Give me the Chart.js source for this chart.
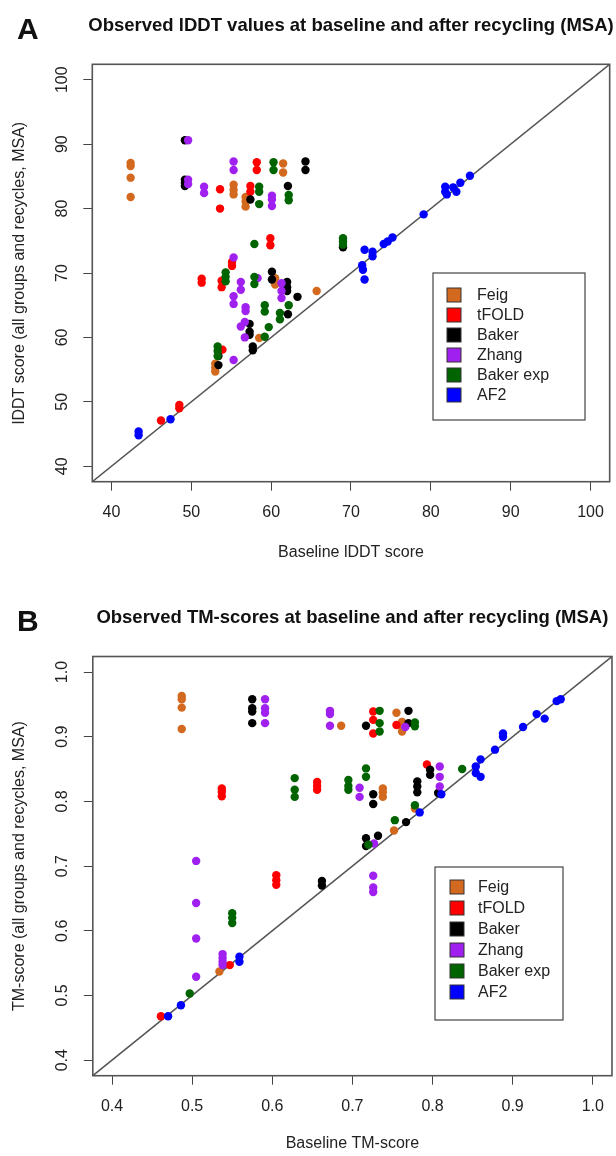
<!DOCTYPE html>
<html><head><meta charset="utf-8">
<script src="https://cdn.jsdelivr.net/npm/chart.js@4.4.1/dist/chart.umd.min.js"></script>
<style>
html,body{margin:0;padding:0;background:#fff;}
#wrap{position:relative;width:616px;height:1156px;overflow:hidden;}
.pane{position:absolute;left:0;width:616px;height:578px;}
canvas{display:block;}
</style></head><body>
<div id="wrap">
<div class="pane" style="top:0"><canvas id="cA" width="616" height="578"></canvas></div>
<div class="pane" style="top:578px"><canvas id="cB" width="616" height="578"></canvas></div>
</div>
<script>
// ---------- categories ----------
const groups = ['Feig', 'tFOLD', 'Baker', 'Zhang', 'Baker exp', 'AF2'];
const groupColors = ['#D2691E', '#FF0000', '#000000', '#A020F0', '#006400', '#0000FF'];

// ---------- Panel A: lDDT (baseline x, after recycling y) ----------
const lddtFeig = [[42.4,87.1],[42.4,86.6],[42.4,84.8],[42.4,81.8],[55.3,83.7],[55.3,82.9],[55.3,82.2],
  [56.8,81.8],[56.8,81.1],[56.8,80.3],[61.5,87.0],[61.5,85.6],[60.5,69.2],[60.5,68.2],[65.7,67.2],
  [58.5,59.9],[53.0,55.9],[53.0,55.3],[53.0,54.7]];
const lddtTfold = [[53.6,83.0],[53.6,80.0],[58.2,87.2],[58.2,86.0],[57.4,83.5],[57.4,82.6],[59.9,75.4],
  [59.9,74.3],[55.1,71.7],[55.1,71.1],[51.3,69.1],[51.3,68.5],[53.8,68.8],[53.8,67.8],[53.9,58.1],
  [48.5,49.5],[48.5,49.0],[46.2,47.1]];
const lddtBaker = [[49.2,90.6],[49.2,84.5],[49.2,84.0],[49.2,83.5],[57.4,81.4],[62.1,83.5],[64.3,87.3],
  [64.3,86.0],[69.0,74.0],[60.1,70.2],[60.1,69.0],[62.0,68.6],[62.0,67.8],[62.0,67.2],[63.3,66.3],
  [62.1,63.6],[57.3,62.1],[57.3,60.9],[57.3,60.4],[57.7,58.6],[57.7,58.0],[53.4,57.1],[53.4,55.7]];
const lddtZhang = [[49.6,90.6],[49.6,84.5],[49.6,83.8],[51.6,83.4],[51.6,82.4],[55.3,87.3],[55.3,86.0],
  [60.1,82.0],[60.1,81.4],[60.1,80.4],[55.3,72.4],[56.2,68.6],[56.2,67.4],[58.3,69.2],[61.3,68.4],
  [61.3,67.2],[61.3,66.1],[55.3,66.4],[55.3,65.2],[56.8,64.7],[56.8,64.1],[56.7,62.4],[56.2,61.7],
  [56.7,60.0],[55.3,56.5]];
const lddtBakerExp = [[58.5,83.4],[58.5,82.6],[58.5,80.7],[60.3,87.2],[60.3,86.0],[62.2,82.1],[62.2,81.3],
  [57.9,74.5],[69.0,75.4],[69.0,74.9],[69.0,74.4],[54.3,70.1],[54.3,69.4],[54.3,68.7],[57.9,69.4],
  [57.9,68.3],[59.2,65.0],[59.2,64.0],[61.1,63.8],[61.1,62.8],[62.2,65.0],[59.7,61.6],[59.2,60.1],
  [53.3,58.6],[53.3,57.9],[53.3,57.1]];
const lddtAF2 = [[43.4,45.4],[43.4,44.8],[47.4,47.3],[71.7,73.6],[71.4,71.2],[71.5,70.5],[71.7,69.0],
  [72.7,73.3],[72.7,72.6],[74.1,74.5],[74.6,74.9],[75.2,75.5],[79.1,79.1],[81.8,83.4],[81.8,82.6],
  [82.0,82.2],[82.8,83.3],[83.2,82.6],[83.7,84.0],[84.9,85.1]];
const lddtTicks = [40, 50, 60, 70, 80, 90, 100];
const lddtTickLabels = ['40', '50', '60', '70', '80', '90', '100'];
const lddtRange = [37.6, 102.4];

// ---------- Panel B: TM-score ----------
const tmFeig = [[0.487,0.963],[0.487,0.958],[0.487,0.945],[0.487,0.912],[0.686,0.917],[0.755,0.937],
  [0.762,0.923],[0.762,0.915],[0.762,0.908],[0.738,0.820],[0.738,0.814],[0.738,0.807],[0.778,0.789],
  [0.752,0.755],[0.534,0.537]];
const tmTfold = [[0.537,0.820],[0.537,0.815],[0.537,0.808],[0.656,0.830],[0.656,0.824],[0.656,0.818],
  [0.726,0.939],[0.726,0.926],[0.726,0.905],[0.755,0.918],[0.793,0.857],[0.605,0.686],[0.605,0.678],
  [0.605,0.671],[0.547,0.547],[0.461,0.468]];
const tmBaker = [[0.575,0.958],[0.575,0.944],[0.575,0.939],[0.575,0.921],[0.717,0.917],[0.770,0.940],
  [0.770,0.921],[0.726,0.811],[0.726,0.796],[0.781,0.831],[0.781,0.823],[0.781,0.814],[0.797,0.849],
  [0.797,0.841],[0.807,0.813],[0.767,0.768],[0.717,0.743],[0.717,0.731],[0.732,0.747],[0.662,0.677],
  [0.662,0.670]];
const tmZhang = [[0.591,0.958],[0.591,0.944],[0.591,0.937],[0.591,0.921],[0.672,0.940],[0.672,0.935],
  [0.672,0.917],[0.766,0.915],[0.709,0.821],[0.709,0.807],[0.809,0.854],[0.809,0.838],[0.809,0.823],
  [0.727,0.735],[0.726,0.685],[0.726,0.667],[0.726,0.660],[0.505,0.708],[0.505,0.643],[0.505,0.588],
  [0.505,0.529],[0.538,0.564],[0.538,0.558],[0.538,0.552],[0.538,0.547]];
const tmBakerExp = [[0.628,0.836],[0.628,0.818],[0.628,0.807],[0.734,0.940],[0.734,0.921],[0.734,0.908],
  [0.778,0.922],[0.778,0.916],[0.695,0.833],[0.695,0.824],[0.695,0.818],[0.717,0.851],[0.717,0.838],
  [0.837,0.850],[0.778,0.794],[0.753,0.771],[0.720,0.733],[0.550,0.627],[0.550,0.620],[0.550,0.612],
  [0.497,0.503]];
const tmAF2 = [[0.470,0.468],[0.486,0.485],[0.559,0.560],[0.559,0.552],[0.784,0.783],[0.811,0.811],
  [0.854,0.854],[0.854,0.844],[0.860,0.865],[0.860,0.838],[0.878,0.880],[0.888,0.905],[0.888,0.900],
  [0.913,0.915],[0.930,0.935],[0.940,0.928],[0.955,0.955],[0.960,0.958]];
const tmTicks = [0.4, 0.5, 0.6, 0.7, 0.8, 0.9, 1.0];
const tmTickLabels = ['0.4', '0.5', '0.6', '0.7', '0.8', '0.9', '1.0'];
const tmRange = [0.376, 1.024];

// ---------- drawing ----------
const FONT = '"Liberation Sans", Arial, Helvetica, sans-serif';
const W = 616, H = 578;

const decor = {
  id: 'decor',
  afterDatasetsDraw(chart, args, o) {
    const P = o.panel; if (!P) return;
    const ctx = chart.ctx, a = chart.chartArea;
    ctx.save();
    ctx.strokeStyle = '#555'; ctx.lineWidth = 1.6;
    ctx.strokeRect(a.left, a.top, a.right - a.left, a.bottom - a.top);
    const ys = chart.scales.y;
    ctx.fillStyle = '#222'; ctx.font = '16px ' + FONT;
    ctx.textAlign = 'center'; ctx.textBaseline = 'middle';
    P.yTicks.forEach((v, i) => {
      const py = ys.getPixelForValue(v);
      ctx.save(); ctx.translate(P.yTickX, py); ctx.rotate(-Math.PI / 2);
      ctx.fillText(P.yTickLabels[i], 0, 0); ctx.restore();
    });
    ctx.save(); ctx.translate(P.yTitleX, (a.top + a.bottom) / 2); ctx.rotate(-Math.PI / 2);
    ctx.fillText(P.yTitle, 0, 0); ctx.restore();
    ctx.fillText(P.xTitle, (a.left + a.right) / 2, P.xTitleY);
    ctx.fillStyle = '#111';
    ctx.font = 'bold 18.5px ' + FONT;
    ctx.fillText(P.title, (a.left + a.right) / 2, P.titleY);
    ctx.font = 'bold 30px ' + FONT; ctx.textAlign = 'left'; ctx.textBaseline = 'alphabetic';
    ctx.fillText(P.letter, 17, P.letterY);
    // legend
    const L = P.legend;
    ctx.strokeStyle = '#444'; ctx.lineWidth = 1.2;
    ctx.strokeRect(L.x, L.y, L.w, L.h);
    ctx.font = '16px ' + FONT; ctx.textBaseline = 'middle'; ctx.fillStyle = '#222';
    chart.data.datasets.filter(d => d.isGroup).forEach((d, i) => {
      const cy = L.y + L.first + i * L.step;
      ctx.fillStyle = d.backgroundColor;
      ctx.fillRect(L.x + L.sq, cy - 7, 14, 14);
      ctx.strokeStyle = '#333'; ctx.lineWidth = 1;
      ctx.strokeRect(L.x + L.sq, cy - 7, 14, 14);
      ctx.fillStyle = '#222';
      ctx.fillText(d.label, L.x + L.tx, cy + 1);
    });
    ctx.restore();
  }
};

function toPts(arr) { return arr.map(p => ({ x: p[0], y: p[1] })); }

function makePanel(id, P) {
  const datasets = P.series.map((s, i) => ({
    label: groups[i], data: toPts(s), isGroup: true,
    backgroundColor: groupColors[i], borderWidth: 0,
    pointRadius: 4.2, pointHoverRadius: 4.2, order: P.series.length - i
  }));
  datasets.push({
    type: 'line', label: 'diag', data: [{ x: P.range[0], y: P.range[0] }, { x: P.range[1], y: P.range[1] }],
    borderColor: '#555', borderWidth: 1.5, pointRadius: 0, order: 100, isGroup: false
  });
  const B = P.box;
  new Chart(document.getElementById(id), {
    type: 'scatter',
    data: { datasets },
    options: {
      responsive: false, animation: false, devicePixelRatio: 1, events: [],
      layout: { autoPadding: false, padding: { top: B.t, right: W - B.r, left: 0, bottom: 0 } },
      plugins: { legend: { display: false }, tooltip: { enabled: false }, title: { display: false }, decor: { panel: P } },
      scales: {
        x: {
          type: 'linear', position: 'bottom', min: P.range[0], max: P.range[1],
          afterBuildTicks: s => { s.ticks = P.xTicks.map(v => ({ value: v })); },
          afterFit: s => { s.height = H - B.b; },
          grid: { drawOnChartArea: false, drawTicks: true, tickLength: 9, color: '#444', lineWidth: 1 },
          border: { display: false },
          ticks: { font: { family: FONT, size: 16 }, color: '#222', padding: P.xTickPad, maxRotation: 0, minRotation: 0,
            callback: (v, i) => P.xTickLabels[i] }
        },
        y: {
          type: 'linear', position: 'left', min: P.range[0], max: P.range[1],
          afterBuildTicks: s => { s.ticks = P.yTicks.map(v => ({ value: v })); },
          afterFit: s => { s.width = B.l; },
          grid: { drawOnChartArea: false, drawTicks: true, tickLength: 9, color: '#444', lineWidth: 1 },
          border: { display: false },
          ticks: { display: false }
        }
      }
    },
    plugins: [decor]
  });
}

makePanel('cA', {
  series: [lddtFeig, lddtTfold, lddtBaker, lddtZhang, lddtBakerExp, lddtAF2],
  range: lddtRange, xTicks: lddtTicks, xTickLabels: lddtTickLabels, yTicks: lddtTicks, yTickLabels: lddtTickLabels,
  box: { l: 92.3, t: 64.3, r: 612.3, b: 481.7 },
  xTickPad: 12, yTickX: 63, yTitleX: 20, xTitleY: 553, titleY: 26, letterY: 39, letter: 'A',
  title: 'Observed lDDT values at baseline and after recycling (MSA)',
  xTitle: 'Baseline lDDT score', yTitle: 'lDDT score (all groups and recycles, MSA)',
  legend: { x: 433, y: 273, w: 152, h: 147, first: 22, step: 20, sq: 14, tx: 44 }
});
makePanel('cB', {
  series: [tmFeig, tmTfold, tmBaker, tmZhang, tmBakerExp, tmAF2],
  range: tmRange, xTicks: tmTicks, xTickLabels: tmTickLabels, yTicks: tmTicks, yTickLabels: tmTickLabels,
  box: { l: 92.8, t: 78.5, r: 612.5, b: 497.7 },
  xTickPad: 12, yTickX: 63, yTitleX: 20, xTitleY: 566, titleY: 40, letterY: 53, letter: 'B',
  title: 'Observed TM-scores at baseline and after recycling (MSA)',
  xTitle: 'Baseline TM-score', yTitle: 'TM-score (all groups and recycles, MSA)',
  legend: { x: 435, y: 289, w: 128, h: 153, first: 20, step: 21, sq: 15, tx: 43 }
});
</script>
</body></html>
